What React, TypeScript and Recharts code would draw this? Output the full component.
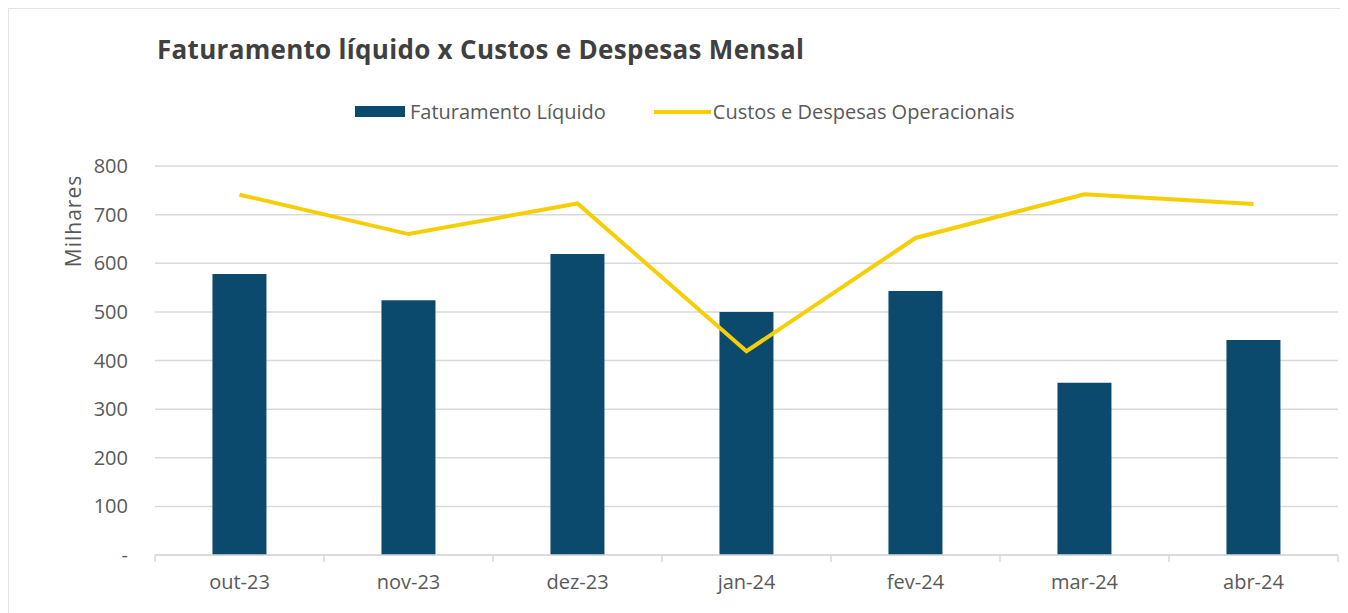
import React from 'react';
import {
  ComposedChart, Bar, Line, XAxis, YAxis, CartesianGrid
} from 'recharts';

const months = ['out-23', 'nov-23', 'dez-23', 'jan-24', 'fev-24', 'mar-24', 'abr-24'];
const faturamento = [578, 524, 619, 500, 543, 354, 442];
const custos = [741, 660, 723, 419, 652, 742, 722];
const yTicks = [0, 100, 200, 300, 400, 500, 600, 700, 800];

const data = months.map((m, i) => ({
  month: m,
  faturamento: faturamento[i],
  custos: custos[i],
}));

const BAR_COLOR = '#0B4A6C';
const LINE_COLOR = '#F6CE06';
const TEXT = '#595959';
const FONT = '"Open Sans", "Noto Sans", sans-serif';

const W = 1336;
const H = 605;
const M = { top: 157, right: 7, bottom: 29, left: 12 };
const Y_WIDTH = 134;
const BAND = (W - M.left - M.right - Y_WIDTH) / months.length;

// x tick: label in the middle, small marks on the category boundaries
const XTick = (props: any) => {
  const { x, y, payload, index } = props;
  const left = x - BAND / 2;
  return (
    <g>
      <line x1={left} x2={left} y1={y - 8} y2={y - 1} stroke="#d9d9d9" strokeWidth={1.5} />
      {index === months.length - 1 && (
        <line x1={x + BAND / 2} x2={x + BAND / 2} y1={y - 8} y2={y - 1} stroke="#d9d9d9" strokeWidth={1.5} />
      )}
      <text x={x} y={y + 26} textAnchor="middle" fill={TEXT} fontSize={20} fontFamily={FONT}>
        {payload.value}
      </text>
    </g>
  );
};

export default function App() {
  return (
    <div style={{ position: 'relative', width: W, height: H, border: '1px solid #e3e3e3', background: '#fff', fontFamily: FONT }}>
      <div style={{ position: 'absolute', left: 148, top: 22, fontSize: 26, letterSpacing: 0.3, fontWeight: 700, color: '#404040', whiteSpace: 'nowrap' }}>
        Faturamento líquido x Custos e Despesas Mensal
      </div>
      <div style={{ position: 'absolute', left: 346, top: 89, display: 'flex', alignItems: 'center', fontSize: 20, color: TEXT, whiteSpace: 'nowrap' }}>
        <span style={{ display: 'inline-block', width: 50, height: 11, background: BAR_COLOR, marginRight: 5 }} />
        <span style={{ marginRight: 48 }}>Faturamento Líquido</span>
        <span style={{ display: 'inline-block', width: 57, height: 4, background: LINE_COLOR, marginRight: 2 }} />
        <span>Custos e Despesas Operacionais</span>
      </div>
      <ComposedChart width={W} height={H} data={data} margin={M} barCategoryGap="34%">
        <CartesianGrid vertical={false} stroke="#d9d9d9" strokeWidth={1.5} />
        <XAxis
          dataKey="month"
          height={30}
          axisLine={{ stroke: '#d9d9d9', strokeWidth: 1.5 }}
          tickLine={false}
          tick={<XTick />}
          interval={0}
        />
        <YAxis
          width={Y_WIDTH}
          domain={[0, 800]}
          ticks={yTicks}
          axisLine={false}
          tickLine={false}
          tickSize={0}
          tickMargin={27}
          tick={{ fill: TEXT, fontSize: 20, fontFamily: FONT }}
          tickFormatter={(v: number) => (v === 0 ? '-' : String(v))}
          label={(p: any) => (
            <text
              x={p.viewBox.x + 60}
              y={p.viewBox.y + 55}
              transform={`rotate(-90, ${p.viewBox.x + 60}, ${p.viewBox.y + 55})`}
              textAnchor="middle"
              fill={TEXT}
              fontSize={21}
              letterSpacing={1}
              fontFamily={FONT}
            >
              Milhares
            </text>
          )}
        />
        <Bar dataKey="faturamento" name="Faturamento Líquido" fill={BAR_COLOR} isAnimationActive={false} />
        <Line
          dataKey="custos"
          name="Custos e Despesas Operacionais"
          type="linear"
          stroke={LINE_COLOR}
          strokeWidth={4}
          dot={false}
          activeDot={false}
          isAnimationActive={false}
        />
      </ComposedChart>
    </div>
  );
}
